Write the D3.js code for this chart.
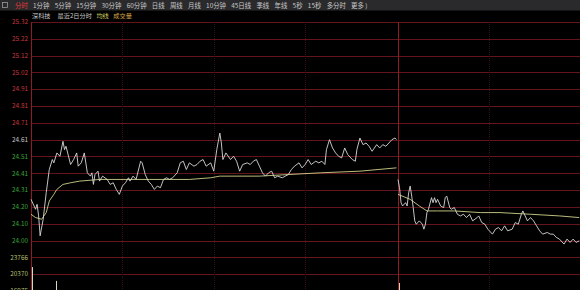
<!DOCTYPE html>
<html>
<head>
<meta charset="utf-8">
<script src="https://cdn.jsdelivr.net/npm/d3@7"></script>
<style>
  html, body { margin: 0; padding: 0; background: #000; overflow: hidden; }
  svg { display: block; font-family: "Noto Sans CJK SC", "Noto Sans", sans-serif; }
</style>
</head>
<body>
<div id="chart"></div>
<script>
// toolbar + legend texts
var menuItems = ["分时", "1分钟", "5分钟", "15分钟", "30分钟", "60分钟", "日线", "周线", "月线",
    "10分钟", "45日线", "季线", "年线", "5秒", "15秒", "多分时", "更多 )"];
var legendItems = ["深科技", "最近2日分时", "均线", "成交量"];

// left axis labels
var priceTicks = ["25.32", "25.22", "25.12", "25.02", "24.91", "24.81", "24.71", "24.61",
    "24.51", "24.41", "24.31", "24.20", "24.10", "24.00"];
var volTicks = ["23766", "20370", "16975"];
var prevClose = 24.61;
var volMax = 23766;

// day 1 (minute index, price)
var day1Min = [0, 3, 4, 5, 6, 8, 10, 12, 14, 15, 17, 19, 21, 22, 23, 26, 28, 30, 31, 33, 35, 37, 39, 40, 41, 42,
    44, 45, 47, 50, 52, 54, 56, 58, 60, 62, 64, 65, 67, 69, 72, 73, 75, 77, 79, 81, 83, 85, 87, 89, 91, 93,
    96, 98, 100, 102, 104, 107, 109, 111, 113, 115, 118, 120, 122, 124, 125, 126, 128, 131, 133, 135, 137,
    139, 142, 144, 146, 148, 150, 152, 154, 156, 158, 160, 162, 165, 167, 169, 171, 173, 176, 178, 180, 182,
    184, 187, 189, 191, 193, 194, 196, 198, 200, 202, 204, 206, 208, 211, 213, 214, 216, 218, 220, 222, 224,
    227, 229, 231, 233, 235, 237, 239, 240];
var day1Price = [24.25, 24.19, 24.22, 24.15, 24.03, 24.13, 24.29, 24.43, 24.49, 24.47, 24.53, 24.51, 24.60,
    24.55, 24.57, 24.46, 24.49, 24.53, 24.45, 24.47, 24.53, 24.41, 24.39, 24.41, 24.34, 24.40, 24.42, 24.36,
    24.39, 24.37, 24.34, 24.35, 24.31, 24.28, 24.33, 24.35, 24.38, 24.36, 24.39, 24.37, 24.48, 24.47, 24.40,
    24.36, 24.34, 24.31, 24.33, 24.32, 24.37, 24.38, 24.37, 24.38, 24.41, 24.47, 24.48, 24.43, 24.47, 24.45,
    24.46, 24.48, 24.49, 24.45, 24.47, 24.42, 24.55, 24.65, 24.59, 24.49, 24.53, 24.49, 24.51, 24.48, 24.42,
    24.46, 24.47, 24.46, 24.48, 24.49, 24.45, 24.41, 24.39, 24.41, 24.42, 24.38, 24.39, 24.38, 24.39, 24.40,
    24.43, 24.45, 24.47, 24.44, 24.46, 24.49, 24.46, 24.48, 24.47, 24.48, 24.46, 24.55, 24.61, 24.56, 24.53,
    24.51, 24.50, 24.56, 24.52, 24.49, 24.48, 24.55, 24.62, 24.58, 24.59, 24.57, 24.54, 24.58, 24.56, 24.58,
    24.57, 24.59, 24.61, 24.62, 24.61];
var day1AvgMin = [0, 3, 7, 10, 12, 15, 17, 21, 26, 32, 45, 78, 104, 118, 124, 150, 190, 216, 240];
var day1Avg = [24.16, 24.14, 24.13, 24.17, 24.24, 24.28, 24.31, 24.34, 24.35, 24.36, 24.37, 24.37, 24.37,
    24.38, 24.39, 24.39, 24.41, 24.42, 24.44];

// day 2 (minute index within the day, price)
var day2Min = [0, 1, 2, 3, 5, 6, 7, 8, 9, 10, 11, 12, 14, 16, 17, 18, 19, 20, 22, 23, 24, 25, 26, 28, 30, 31,
    32, 34, 35, 37, 39, 41, 43, 45, 47, 49, 52, 53, 55, 57, 59, 62, 64, 66, 68, 70, 72, 75, 77, 79, 81, 82,
    85, 87, 89, 91, 93, 95, 98, 100, 102, 104, 106, 109, 111, 113, 115, 117, 119];
var day2Price = [24.37, 24.32, 24.23, 24.21, 24.23, 24.21, 24.29, 24.33, 24.27, 24.20, 24.12, 24.10, 24.12,
    24.10, 24.07, 24.10, 24.17, 24.19, 24.26, 24.23, 24.26, 24.23, 24.25, 24.21, 24.20, 24.26, 24.27, 24.20,
    24.19, 24.20, 24.16, 24.15, 24.16, 24.14, 24.16, 24.12, 24.14, 24.15, 24.11, 24.10, 24.07, 24.04, 24.07,
    24.08, 24.06, 24.09, 24.06, 24.07, 24.11, 24.10, 24.16, 24.18, 24.12, 24.14, 24.12, 24.09, 24.06, 24.04,
    24.05, 24.04, 24.04, 24.02, 24.01, 23.98, 24.01, 23.99, 24.01, 23.99, 24.00];
var day2AvgMin = [0, 8, 14, 19, 26, 37, 54, 67, 87, 106, 119];
var day2Avg = [24.28, 24.25, 24.21, 24.18, 24.18, 24.18, 24.17, 24.17, 24.16, 24.15, 24.14];

// volume bars tall enough to show in view
var volMin = [0, 16, 241];
var volVal = [21800, 19000, 18600];

var minutesPerDay = 241;

makePlot();

function makePlot() {
    var svgWidth = 580;
    var svgHeight = 290;

    var left = 31;
    var top = 22;
    var rowH = 16.81;

    var svg = d3.select("#chart")
        .append("svg")
        .attr("width", svgWidth)
        .attr("height", svgHeight);

    svg.append("rect")
        .attr("width", svgWidth)
        .attr("height", svgHeight)
        .attr("fill", "#000");

    // toolbar
    svg.append("rect")
        .attr("width", svgWidth)
        .attr("height", 10.5)
        .attr("fill", "#2a2a2c");

    svg.append("rect")
        .attr("x", 2.5).attr("y", 2.5)
        .attr("width", 5).attr("height", 5)
        .attr("fill", "none")
        .attr("stroke", "#9a9a9a")
        .attr("stroke-width", 0.8);

    var mx = 15;
    menuItems.forEach(function(label, i) {
        var t = svg.append("text")
            .attr("x", mx)
            .attr("y", 7.8)
            .attr("font-size", "6.4px")
            .attr("fill", i === 0 ? "#e8393c" : "#c8c8c8")
            .text(label);
        mx += t.node().getComputedTextLength() + 5.3;
    });

    // legend line
    var legendColors = ["#c8c8c8", "#c8c8c8", "#d8d860", "#d8a848"];
    var lx = 32;
    legendItems.forEach(function(label, i) {
        var t = svg.append("text")
            .attr("x", lx)
            .attr("y", 18.3)
            .attr("font-size", "6.2px")
            .attr("fill", legendColors[i])
            .text(label);
        lx += t.node().getComputedTextLength() + (i === 0 ? 7 : 4.5);
    });

    var step = (+priceTicks[0] - prevClose) / 7;
    var yPrice = d3.scaleLinear()
        .domain([prevClose - 6 * step, prevClose + 7 * step])
        .range([top + 13 * rowH, top]);

    var yVol = d3.scaleLinear()
        .domain([0, volMax])
        .range([top + 21 * rowH, top + 14 * rowH]);

    var xScale = d3.scaleLinear()
        .domain([0, 2 * minutesPerDay])
        .range([left, left + 2 * 367]);

    var plot = svg.append("g");

    // horizontal grid
    plot.append("g")
        .selectAll("line")
        .data(d3.range(17))
        .enter()
        .append("line")
        .attr("x1", left)
        .attr("x2", svgWidth)
        .attr("y1", d => Math.round(top + d * rowH) + 0.5)
        .attr("y2", d => Math.round(top + d * rowH) + 0.5)
        .attr("stroke", "#64141b")
        .attr("stroke-width", 1);

    // hourly lines
    var hourMarks = [60, 120, 180, minutesPerDay + 60, minutesPerDay + 120, minutesPerDay + 180];
    plot.append("g")
        .selectAll("line")
        .data(hourMarks)
        .enter()
        .append("line")
        .attr("x1", d => Math.round(xScale(d)) + 0.5)
        .attr("x2", d => Math.round(xScale(d)) + 0.5)
        .attr("y1", top)
        .attr("y2", svgHeight)
        .attr("stroke", "#3c1013")
        .attr("stroke-dasharray", "1,1");

    // left axis + day separator
    plot.append("g")
        .selectAll("line")
        .data([0, minutesPerDay])
        .enter()
        .append("line")
        .attr("x1", d => Math.round(xScale(d)) + 0.5)
        .attr("x2", d => Math.round(xScale(d)) + 0.5)
        .attr("y1", top)
        .attr("y2", svgHeight)
        .attr("stroke", "#8c1d22");

    // price labels
    svg.append("g")
        .selectAll("text")
        .data(priceTicks)
        .enter()
        .append("text")
        .attr("x", 28)
        .attr("y", (d, i) => yPrice(prevClose + (7 - i) * step))
        .attr("dy", "0.35em")
        .attr("text-anchor", "end")
        .attr("font-size", "6.4px")
        .attr("fill", (d, i) => i < 7 ? "#c8383c" : (i === 7 ? "#c8c8c8" : "#3aa63a"))
        .text(d => d);

    svg.append("g")
        .selectAll("text")
        .data(volTicks)
        .enter()
        .append("text")
        .attr("x", 28)
        .attr("y", (d, i) => yVol(volMax * (7 - i) / 7))
        .attr("dy", "0.35em")
        .attr("text-anchor", "end")
        .attr("font-size", "6.4px")
        .attr("fill", "#b8c070")
        .text(d => d);

    // volume bars
    plot.append("g")
        .selectAll("line")
        .data(volMin)
        .enter()
        .append("line")
        .attr("x1", d => Math.round(xScale(d)) + 1.5)
        .attr("x2", d => Math.round(xScale(d)) + 1.5)
        .attr("y1", (d, i) => yVol(volVal[i]))
        .attr("y2", yVol(0))
        .attr("stroke", "#d8d8b8");

    var line = d3.line()
        .x(d => xScale(d[0]))
        .y(d => yPrice(d[1]));

    var series = [
        { pts: d3.zip(day1AvgMin, day1Avg), color: "#cfcf8a" },
        { pts: d3.zip(day2AvgMin.map(m => m + minutesPerDay), day2Avg), color: "#cfcf8a" },
        { pts: d3.zip(day1Min, day1Price), color: "#d8d8d8" },
        { pts: d3.zip(day2Min.map(m => m + minutesPerDay), day2Price), color: "#d8d8d8" }
    ];

    plot.append("g")
        .selectAll("path")
        .data(series)
        .enter()
        .append("path")
        .attr("d", d => line(d.pts))
        .attr("fill", "none")
        .attr("stroke", d => d.color)
        .attr("stroke-width", 0.9);
}
</script>
</body>
</html>
